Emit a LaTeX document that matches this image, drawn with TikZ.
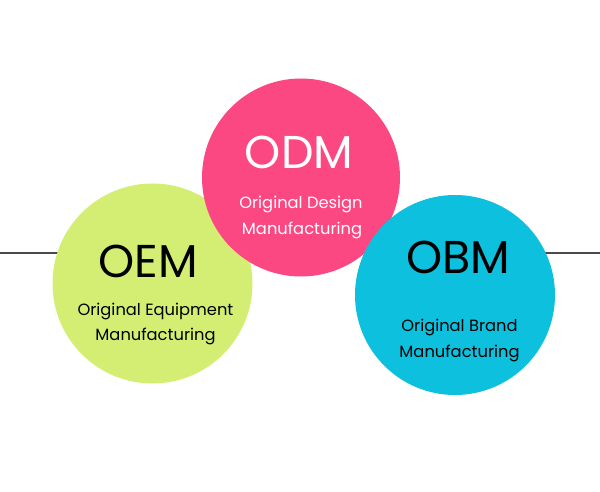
\documentclass[tikz,border=0pt]{standalone}
\usepackage{fontspec}
\setmainfont{Poppins}
\usetikzlibrary{backgrounds}
\definecolor{oemgreen}{HTML}{D4EE74}
\definecolor{odmpink}{HTML}{FC4882}
\definecolor{obmcyan}{HTML}{0CC0DE}
\definecolor{linegray}{HTML}{4A4A4A}
\begin{document}
\begin{tikzpicture}[x=1pt,y=-1pt,
  bubble/.style={circle, minimum size=200pt, inner sep=0pt, outer sep=0pt},
  title/.style={anchor=base, font=\fontsize{46}{46}\selectfont},
  sub/.style={anchor=base, font=\fontsize{16.3}{17}\selectfont},
  rule/.style={draw=linegray, line width=1.1pt}]
\useasboundingbox (0,0) rectangle (600,492);
\node[bubble, fill=oemgreen] (oem) at (152.5,283.5) {};
\node[bubble, fill=odmpink, minimum size=198pt] (odm) at (301,177.5) {};
\node[bubble, fill=obmcyan] (obm) at (455,295) {};
\coordinate (lstart) at (0,253);
\coordinate (rend) at (600,253);
\begin{scope}[on background layer]
\fill[white] (0,0) rectangle (600,492);
\draw[rule] (lstart) -- (lstart -| oem.center);
\draw[rule] (rend -| obm.center) -- (rend);
\end{scope}
\node[title, text=white] (odmt) at (299,169) {ODM};
\node[sub, text=white] (odms1) at (301,208) {Original Design};
\node[sub, text=white] (odms2) at (302,234) {Manufacturing};
\node[title, text=black] (oemt) at (148,277) {OEM};
\node[sub, text=black] (oems1) at (155.5,315) {Original Equipment};
\node[sub, text=black] (oems2) at (155.5,340) {Manufacturing};
\node[title, text=black] (obmt) at (458,273) {OBM};
\node[sub, text=black] (obms1) at (459.5,331) {Original Brand};
\node[sub, text=black] (obms2) at (459.5,357) {Manufacturing};
\end{tikzpicture}
\end{document}
